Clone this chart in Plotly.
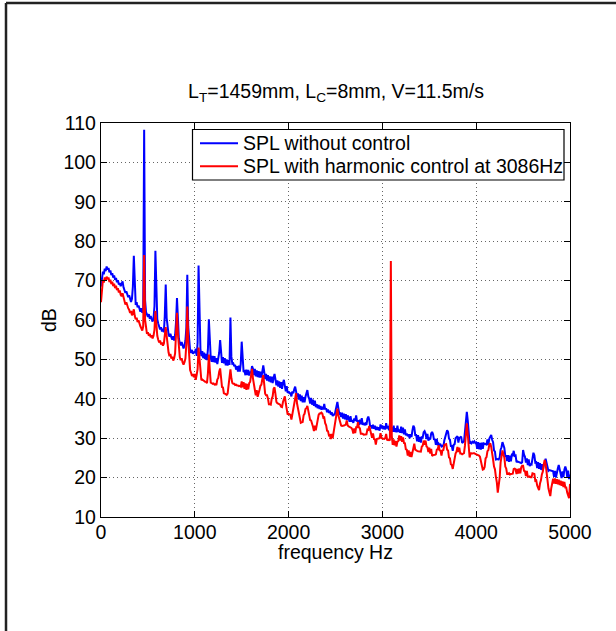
import plotly.graph_objects as go

# ---------------- data ----------------
freq_step_hz = 10  # spectrum bin spacing; values below are listed per bin from 0 Hz

spl_without_control = [
    68.5, 71.0, 72.3, 71.6, 73.0, 72.4, 73.6, 72.8, 73.2, 72.1,
    72.6, 71.4, 71.9, 70.8, 71.3, 70.2, 70.7, 69.6, 70.1, 69.0,
    69.4, 68.6, 69.2, 69.8, 68.3, 67.6, 66.9, 67.3, 66.2, 65.8,
    66.3, 65.2, 64.6, 65.4, 68.5, 76.3, 66.0, 63.8, 64.5, 63.2,
    63.7, 62.6, 62.1, 63.0, 61.8, 62.5, 108.3, 65.0, 62.0, 61.4,
    60.8, 61.5, 60.3, 61.0, 60.1, 59.6, 60.4, 63.5, 77.6, 66.0,
    60.2, 59.1, 58.4, 57.6, 58.2, 57.1, 57.8, 56.9, 61.0, 69.0,
    60.5, 57.3, 56.4, 55.8, 56.5, 55.6, 55.0, 55.9, 54.8, 56.2,
    59.5, 65.6, 58.0, 55.3, 54.1, 53.6, 54.4, 53.2, 52.8, 53.5,
    54.8, 58.0, 71.5, 58.3, 53.5, 52.2, 51.7, 52.4, 51.4, 52.0,
    51.6, 52.7, 50.9, 54.2, 73.8, 57.5, 52.7, 50.8, 52.1, 50.3,
    51.7, 50.1, 51.4, 49.8, 52.6, 60.2, 53.2, 50.3, 49.4, 50.9,
    49.3, 50.8, 49.2, 50.3, 48.8, 50.2, 51.7, 54.9, 51.2, 49.1,
    50.6, 49.0, 50.3, 48.5, 50.0, 48.4, 49.8, 48.6, 60.6, 50.7,
    48.9, 49.0, 48.3, 48.6, 47.4, 48.3, 46.9, 48.4, 46.9, 48.9,
    54.5, 49.2, 46.8, 47.0, 46.0, 47.4, 46.0, 47.3, 45.9, 46.9,
    46.5, 48.3, 47.6, 46.0, 47.6, 45.7, 47.2, 45.5, 47.0, 45.4,
    46.9, 45.4, 47.0, 48.5, 46.9, 45.0, 46.3, 44.6, 46.0, 44.4,
    45.7, 44.2, 45.6, 44.0, 45.3, 46.3, 44.9, 43.4, 44.7, 43.1,
    44.4, 42.8, 44.2, 42.5, 44.0, 44.8, 43.3, 41.9, 43.2, 41.5,
    41.9, 41.4, 41.4, 40.6, 41.9, 41.4, 42.4, 43.1, 41.9, 40.4,
    41.4, 39.8, 41.1, 39.4, 40.8, 39.1, 40.4, 39.1, 40.5, 41.2,
    42.2, 40.6, 40.0, 38.8, 40.2, 38.5, 39.8, 38.2, 39.5, 37.9,
    38.6, 37.6, 38.4, 37.4, 38.2, 37.2, 38.0, 37.3, 38.7, 37.3,
    37.6, 36.6, 37.3, 36.4, 37.0, 36.0, 36.6, 35.6, 36.2, 35.8,
    36.9, 38.4, 39.2, 37.7, 36.2, 36.3, 35.4, 36.5, 35.0, 36.2,
    34.8, 36.1, 34.6, 35.8, 34.8, 34.2, 35.6, 34.2, 34.6, 33.9,
    35.0, 34.4, 35.8, 34.2, 34.5, 33.4, 34.7, 33.5, 35.1, 33.4,
    33.9, 33.3, 33.7, 33.4, 34.9, 35.5, 34.6, 32.9, 33.3, 32.5,
    33.4, 32.4, 33.2, 32.1, 32.9, 32.1, 32.8, 31.9, 33.5, 32.5,
    33.2, 32.3, 33.0, 32.2, 33.8, 32.5, 33.1, 32.0, 33.7, 32.2,
    32.7, 31.6, 33.2, 31.6, 32.5, 31.5, 33.2, 31.6, 32.2, 31.4,
    32.9, 31.3, 32.7, 31.0, 32.2, 30.7, 31.2, 30.5, 31.0, 30.0,
    31.0, 30.3, 32.0, 33.2, 32.7, 30.8, 30.8, 29.2, 30.8, 29.1,
    30.3, 28.9, 30.4, 30.2, 31.5, 31.8, 31.2, 29.8, 31.1, 29.4,
    29.9, 29.7, 31.2, 31.6, 31.0, 29.6, 29.8, 28.3, 29.8, 28.2,
    28.6, 28.2, 28.4, 27.9, 28.1, 27.9, 29.4, 30.5, 31.6, 32.0,
    31.6, 29.9, 29.6, 28.0, 28.0, 26.8, 28.3, 28.5, 30.0, 30.2,
    30.5, 28.9, 30.1, 30.2, 30.4, 28.8, 29.0, 29.2, 31.6, 33.8,
    36.7, 34.5, 31.0, 28.6, 29.0, 28.7, 29.1, 28.9, 29.2, 28.8,
    28.9, 27.3, 29.0, 27.2, 28.8, 27.1, 28.9, 27.3, 28.7, 28.6,
    28.7, 28.4, 29.7, 28.3, 29.9, 30.4, 30.8, 29.6, 29.0, 26.9,
    26.6, 24.6, 24.7, 24.7, 24.6, 25.1, 27.1, 27.7, 29.0, 28.0,
    27.5, 25.5, 25.5, 24.2, 25.7, 24.0, 25.6, 24.1, 25.8, 25.7,
    26.8, 25.5, 25.6, 23.9, 24.1, 24.0, 23.9, 23.7, 23.7, 23.9,
    27.0, 25.8, 25.3, 23.8, 24.9, 23.2, 24.6, 22.9, 23.4, 23.3,
    24.8, 26.3, 25.7, 23.8, 23.9, 22.4, 23.9, 22.2, 23.7, 22.0,
    23.4, 21.8, 23.2, 23.6, 24.8, 23.7, 23.3, 21.7, 21.9, 21.8,
    21.8, 21.6, 21.6, 20.2, 21.7, 20.0, 21.5, 22.3, 23.2, 21.7,
    21.4, 19.9, 21.6, 20.1, 22.0, 22.8, 22.0, 20.2, 21.8, 19.6,
    20.8,
]

spl_with_control = [
    64.5, 68.0, 70.2, 69.5, 70.8, 70.1, 71.0, 70.3, 70.8, 69.6,
    70.2, 69.1, 69.7, 68.6, 69.2, 68.1, 68.7, 67.6, 68.1, 67.0,
    67.5, 66.4, 66.0, 66.8, 65.6, 64.7, 63.9, 64.5, 63.4, 63.0,
    62.6, 61.8, 62.3, 61.2, 61.8, 62.7, 61.0, 60.2, 60.6, 59.5,
    59.9, 58.8, 58.4, 57.9, 57.3, 58.4, 76.5, 60.0, 57.2, 56.5,
    56.9, 56.0, 56.5, 55.6, 56.1, 55.3, 56.0, 57.5, 62.3, 58.5,
    56.0, 55.0, 54.3, 54.8, 53.8, 54.3, 53.5, 54.0, 55.8, 58.2,
    56.0, 53.0, 51.8, 50.8, 51.4, 50.2, 50.7, 49.7, 50.3, 51.5,
    55.8, 61.8, 56.5, 51.8, 50.6, 49.8, 50.3, 49.2, 48.7, 49.3,
    50.2, 54.0, 63.4, 55.0, 49.0, 47.3, 46.6, 45.8, 46.3, 45.5,
    46.3, 44.8, 46.1, 47.5, 53.0, 49.5, 46.3, 44.7, 44.9, 44.6,
    44.6, 44.3, 44.3, 44.0, 46.5, 51.2, 47.2, 44.1, 44.0, 43.8,
    43.9, 43.6, 43.7, 43.5, 44.9, 45.3, 46.9, 47.7, 45.4, 43.0,
    42.9, 41.4, 41.3, 41.2, 41.0, 41.3, 43.7, 45.6, 47.5, 45.2,
    44.0, 43.8, 43.8, 43.5, 43.6, 43.4, 43.4, 43.2, 43.3, 43.1,
    44.4, 42.9, 44.2, 42.5, 43.9, 42.3, 43.8, 42.4, 44.0, 44.3,
    46.0, 47.6, 45.2, 42.9, 42.3, 40.9, 42.2, 40.5, 41.9, 42.3,
    43.3, 43.6, 45.1, 46.0, 43.7, 41.3, 40.9, 40.9, 40.1, 38.6,
    38.6, 38.5, 40.0, 40.6, 42.5, 42.9, 41.2, 39.2, 38.9, 38.8,
    38.7, 38.5, 38.0, 37.9, 39.2, 39.7, 40.6, 38.8, 37.6, 36.0,
    36.2, 36.0, 35.9, 34.7, 36.1, 36.7, 38.6, 40.2, 41.4, 38.8,
    37.5, 35.9, 35.4, 33.9, 34.0, 34.1, 35.8, 36.2, 37.4, 37.6,
    38.2, 36.8, 36.1, 34.6, 34.5, 33.2, 32.9, 31.8, 33.2, 32.0,
    33.5, 34.0, 35.9, 36.3, 36.3, 36.5, 36.2, 35.2, 35.3, 33.8,
    33.3, 31.9, 31.8, 30.7, 30.8, 29.8, 31.1, 30.0, 31.5, 32.3,
    34.2, 36.2, 37.5, 35.8, 34.9, 33.5, 33.2, 33.1, 33.1, 33.2,
    33.3, 33.5, 34.5, 33.2, 33.0, 32.9, 32.7, 32.6, 32.2, 31.2,
    32.5, 31.3, 32.8, 32.8, 34.1, 32.7, 32.5, 31.1, 31.1, 31.1,
    30.9, 30.9, 30.9, 31.0, 32.2, 32.1, 33.1, 31.8, 31.5, 30.1,
    31.2, 29.8, 29.7, 28.4, 29.8, 29.9, 29.9, 30.0, 31.3, 30.1,
    29.9, 29.9, 29.8, 30.0, 31.1, 29.6, 29.5, 29.7, 29.4, 75.0,
    30.6, 28.3, 29.7, 28.2, 29.3, 27.9, 29.1, 29.3, 30.7, 29.4,
    30.5, 29.1, 30.2, 28.8, 28.7, 27.2, 27.1, 25.6, 26.9, 25.3,
    26.5, 25.2, 26.7, 27.2, 28.6, 27.1, 26.8, 26.8, 26.7, 26.7,
    26.6, 26.6, 27.9, 28.1, 29.4, 28.3, 29.4, 27.9, 27.7, 26.5,
    27.6, 26.1, 27.3, 25.5, 25.7, 25.7, 25.8, 25.9, 27.1, 27.2,
    28.2, 26.9, 26.8, 25.6, 26.9, 27.0, 28.3, 28.4, 28.5, 27.1,
    26.9, 25.1, 24.9, 23.4, 23.2, 22.2, 23.7, 24.3, 26.1, 26.6,
    27.8, 26.5, 27.6, 26.1, 26.1, 25.9, 26.0, 26.2, 28.1, 30.5,
    33.8, 31.0, 27.5, 25.1, 26.2, 26.1, 26.1, 26.2, 26.2, 26.0,
    25.9, 25.8, 25.7, 25.6, 25.3, 24.0, 23.7, 22.0, 22.1, 22.7,
    24.9, 25.2, 26.7, 27.0, 28.4, 28.7, 27.8, 25.5, 24.6, 22.8,
    22.1, 20.2, 18.8, 16.2, 17.8, 19.9, 23.8, 25.8, 26.9, 25.9,
    25.1, 22.8, 22.3, 20.9, 20.9, 21.1, 20.8, 20.9, 20.9, 21.0,
    22.2, 22.3, 22.1, 20.9, 22.2, 21.0, 22.3, 21.1, 22.6, 23.0,
    23.0, 21.7, 21.6, 20.4, 21.7, 20.2, 20.2, 20.3, 20.1, 20.1,
    21.1, 21.0, 20.9, 19.2, 19.3, 18.0, 17.5, 16.8, 18.5, 19.3,
    20.8, 21.5, 23.3, 24.5, 23.5, 21.1, 19.8, 17.3, 16.3, 15.3,
    17.3, 18.5, 19.7, 18.5, 19.8, 18.4, 19.6, 18.3, 19.5, 18.1,
    19.2, 17.9, 19.0, 17.6, 18.9, 17.5, 17.5, 16.2, 15.5, 14.8,
    18.4,
]

frequency_hz = [i * freq_step_hz for i in range(len(spl_without_control))]

series_names = ["SPL without control", "SPL with harmonic control at 3086Hz"]
series_colors = ["#0000ff", "#ff0000"]

x_ticks = [0, 1000, 2000, 3000, 4000, 5000]
y_ticks = [10, 20, 30, 40, 50, 60, 70, 80, 90, 100, 110]

title_text = "L<sub>T</sub>=1459mm, L<sub>C</sub>=8mm, V=11.5m/s"
x_label = "frequency Hz"
y_label = "dB"

# ---------------- figure ----------------
FONT = "Liberation Sans, Arial, Helvetica, sans-serif"
FS = 19.5
W, H = 616, 631
L, R, T, B = 101, 46, 123, 114
plot_w = W - L - R
plot_h = H - T - B


def px_to_paper_x(px):
    return (px - L) / plot_w


def px_to_paper_y(py):
    return (H - B - py) / plot_h


fig = go.Figure()
for yvals, name, color in zip([spl_without_control, spl_with_control], series_names, series_colors):
    fig.add_trace(go.Scatter(
        x=frequency_hz, y=yvals, mode="lines", name=name,
        line=dict(color=color, width=2.0),
        showlegend=False, hoverinfo="skip",
    ))

axis_common = dict(
    showline=True, linecolor="black", linewidth=1.3, mirror="ticks",
    ticks="inside", ticklen=6, tickwidth=1, tickcolor="black",
    showgrid=True, gridcolor="#666666", griddash="1px,3px", gridwidth=1,
    zeroline=False,
    tickfont=dict(family=FONT, size=FS, color="black"),
)

fig.update_xaxes(range=[0, 5000], tickvals=x_ticks, ticklabelstandoff=-3, **axis_common)
fig.update_yaxes(range=[10, 110], tickvals=y_ticks, **axis_common)

# legend box (drawn as in the reference: framed box, line samples + labels)
leg_x0, leg_x1, leg_y0, leg_y1 = 192.5, 564, 129.5, 180
leg_rows_y = [143.3, 166.2]
leg_line_x0, leg_line_x1, leg_text_x = 200, 238, 241

shapes = [
    # figure frame (top and left edges visible in the reference)
    dict(type="line", xref="paper", yref="paper",
         x0=px_to_paper_x(6), x1=px_to_paper_x(W + 10),
         y0=px_to_paper_y(3), y1=px_to_paper_y(3),
         line=dict(color="#222222", width=2.5)),
    dict(type="line", xref="paper", yref="paper",
         x0=px_to_paper_x(6), x1=px_to_paper_x(6),
         y0=px_to_paper_y(3), y1=px_to_paper_y(H + 10),
         line=dict(color="#222222", width=2.5)),
    dict(type="rect", xref="paper", yref="paper",
         x0=px_to_paper_x(leg_x0), x1=px_to_paper_x(leg_x1),
         y0=px_to_paper_y(leg_y1), y1=px_to_paper_y(leg_y0),
         fillcolor="white", line=dict(color="black", width=1.2), layer="above"),
]
annotations = [
    dict(text=x_label, xref="paper", yref="paper", x=0.5, y=px_to_paper_y(552),
         xanchor="center", yanchor="middle", showarrow=False,
         font=dict(family=FONT, size=FS, color="black")),
    dict(text=y_label, xref="paper", yref="paper", x=px_to_paper_x(49), y=0.5,
         xanchor="center", yanchor="middle", showarrow=False, textangle=-90,
         font=dict(family=FONT, size=FS, color="black")),
]
for row_y, name, color in zip(leg_rows_y, series_names, series_colors):
    shapes.append(dict(type="line", xref="paper", yref="paper",
                       x0=px_to_paper_x(leg_line_x0), x1=px_to_paper_x(leg_line_x1),
                       y0=px_to_paper_y(row_y), y1=px_to_paper_y(row_y),
                       line=dict(color=color, width=2.0), layer="above"))
    annotations.append(dict(text=name, xref="paper", yref="paper",
                            x=px_to_paper_x(leg_text_x), y=px_to_paper_y(row_y),
                            xanchor="left", yanchor="middle", showarrow=False,
                            font=dict(family=FONT, size=FS, color="black")))

fig.update_layout(
    width=W, height=H,
    margin=dict(l=L, r=R, t=T, b=B, pad=0),
    paper_bgcolor="white", plot_bgcolor="white",
    font=dict(family=FONT, size=FS, color="black"),
    showlegend=False,
    title=dict(
        text=title_text, x=px_to_paper_x(336), xref="paper", xanchor="center",
        y=1 - 91 / H, yref="container", yanchor="middle",
        font=dict(family=FONT, size=FS, color="black"),
    ),
    annotations=annotations,
    shapes=shapes,
)

fig.write_html("out.html", config={"displayModeBar": False},
               post_script="document.body.style.margin='0px';")
